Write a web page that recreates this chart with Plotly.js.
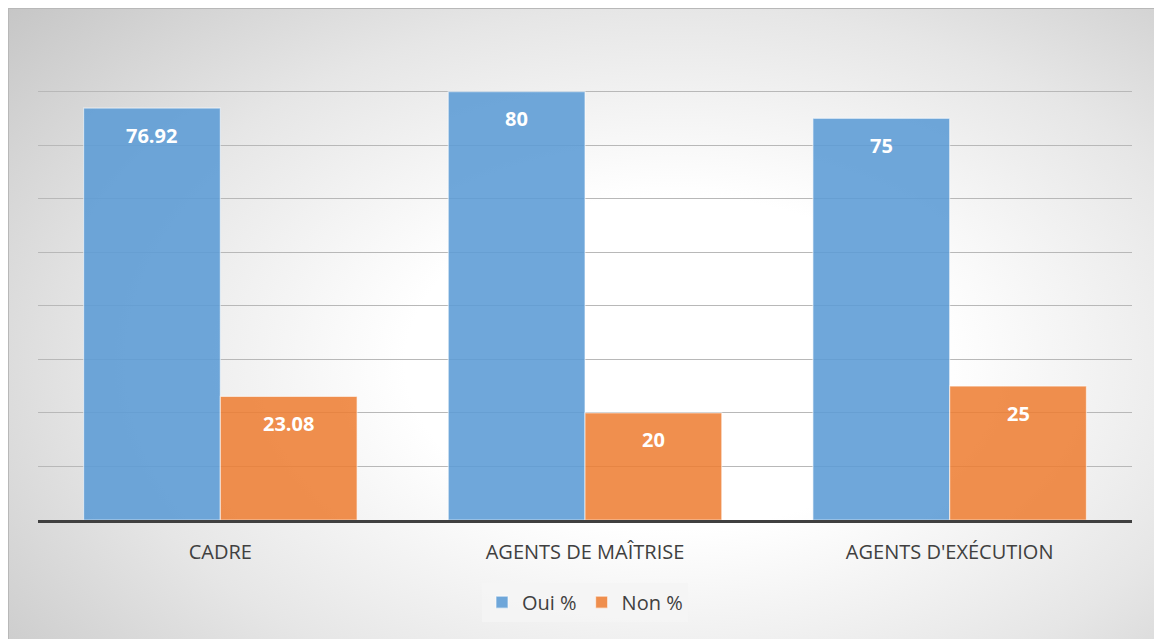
<!DOCTYPE html>
<html>
<head>
<meta charset="utf-8">
<script src="https://cdn.plot.ly/plotly-3.0.1.min.js"></script>
<style>
  html, body { margin: 0; padding: 0; background: #ffffff; }
  #wrap { position: relative; width: 1154px; height: 639px; overflow: hidden; }
  #bg {
    position: absolute; left: 8px; top: 8px; width: 1146px; height: 631px;
    border-left: 1px solid #b8b8b8; border-top: 1px solid #b8b8b8;
    background: radial-gradient(ellipse 78% 88% at 58% 56%, #ffffff 0%, #ffffff 30%, #e6e6e6 64%, #c4c4c4 100%);
  }
  #chart { position: absolute; left: 0; top: 0; width: 1154px; height: 639px; }
</style>
</head>
<body>
<div id="wrap">
  <div id="bg"></div>
  <div id="chart"></div>
</div>
<script>
// Categories and the two series (percentages)
const categories = ["CADRE", "AGENTS DE MAÎTRISE", "AGENTS D'EXÉCUTION"];
const ouiValues = [76.92, 80, 75];
const nonValues = [23.08, 20, 25];
const seriesNames = ["Oui %", "Non %"];

const blue = "rgba(91,155,213,0.88)";
const orange = "rgba(237,125,49,0.86)";
const textFont = "Open Sans, Noto Sans, sans-serif";

const traces = [
  {
    type: "bar", name: seriesNames[0], x: categories, y: ouiValues,
    marker: { color: blue, line: { color: "rgba(255,255,255,0.55)", width: 1.2 } },
    hoverinfo: "none"
  },
  {
    type: "bar", name: seriesNames[1], x: categories, y: nonValues,
    marker: { color: orange, line: { color: "rgba(255,255,255,0.55)", width: 1.2 } },
    hoverinfo: "none"
  }
];

// Value labels sit just inside the top of each bar
const labelShift = 68.5;
const annotations = [];
[ouiValues, nonValues].forEach((vals, s) => {
  vals.forEach((v, i) => {
    annotations.push({
      x: categories[i], y: v, xref: "x", yref: "y",
      xshift: s === 0 ? -labelShift : labelShift, yshift: -27,
      yanchor: "middle", showarrow: false,
      text: String(v),
      font: { family: textFont, size: 20, color: "#ffffff", weight: 700 }
    });
  });
});

const layout = {
  width: 1154, height: 639,
  margin: { l: 38, r: 22, t: 38, b: 119 },
  paper_bgcolor: "rgba(0,0,0,0)",
  plot_bgcolor: "rgba(0,0,0,0)",
  barmode: "group", bargap: 0.25, bargroupgap: 0,
  showlegend: true,
  legend: {
    orientation: "h", x: 0.5, xanchor: "center", xref: "paper",
    y: -0.13, yanchor: "top",
    bgcolor: "rgba(245,245,245,0.85)",
    font: { family: textFont, size: 20, color: "#404040" },
    itemwidth: 30, tracegroupgap: 0
  },
  xaxis: {
    type: "category",
    showline: true, linecolor: "#404040", linewidth: 3,
    ticks: "", showgrid: false, zeroline: false,
    tickfont: { family: textFont, size: 20, color: "#404040" },
    ticklabelstandoff: 12
  },
  yaxis: {
    range: [0, 90], dtick: 10, tick0: 0,
    showticklabels: false, ticks: "",
    showgrid: true, gridcolor: "#b8b8b8", gridwidth: 1.2,
    zeroline: false, showline: false
  },
  annotations: annotations
};

Plotly.newPlot("chart", traces, layout, { staticPlot: true, displayModeBar: false });
</script>
</body>
</html>
